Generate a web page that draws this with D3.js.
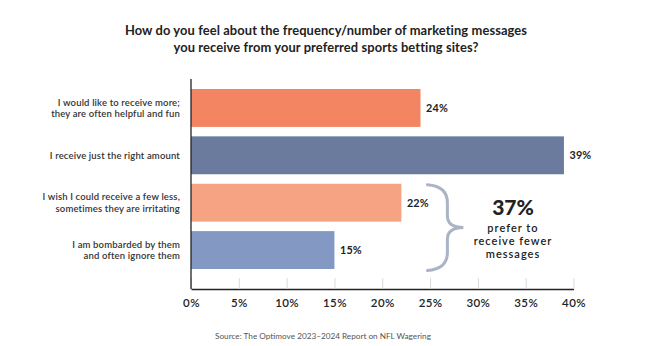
<!DOCTYPE html>
<html>
<head>
<meta charset="utf-8">
<script src="https://cdn.jsdelivr.net/npm/d3@7"></script>
<style>
  html, body { margin: 0; padding: 0; background: #fff; }
  svg { display: block; font-family: Lato, "Open Sans", sans-serif; }
</style>
</head>
<body>
<svg id="chart" width="649" height="346"></svg>
<script>
// Survey answers, in display order (top to bottom)
const categories = [
  ["I would like to receive more;", "they are often helpful and fun"],
  ["I receive just the right amount"],
  ["I wish I could receive a few less,", "sometimes they are irritating"],
  ["I am bombarded by them", "and often ignore them"]
];
const values = [24, 39, 22, 15];
const barColors = ["#f48563", "#6b7b9d", "#f6a383", "#8399c4"];
const tickValues = [0, 5, 10, 15, 20, 25, 30, 35, 40];
const titleLines = [
  "How do you feel about the frequency/number of marketing messages",
  "you receive from your preferred sports betting sites?"
];
const sourceText = "Source: The Optimove 2023\u20132024 Report on NFL Wagering";
// Answers grouped by the bracket callout ("fewer messages")
const fewerIdx = [2, 3];
const calloutLines = ["prefer to", "receive fewer", "messages"];

const svg = d3.select("#chart");
const ink = "#222";

const x = d3.scaleLinear().domain([0, 40]).range([191, 573.5]);
const y = d3.scaleBand().domain(d3.range(values.length))
  .range([89, 269]).paddingInner(0.2).paddingOuter(0);

const axisTop = 79, axisBottom = 289;

// Title
svg.append("text")
  .attr("x", 326).attr("y", 35)
  .attr("text-anchor", "middle")
  .attr("font-size", 12.9).attr("font-weight", 700).attr("fill", ink)
  .attr("letter-spacing", 0.1)
  .selectAll("tspan").data(titleLines).join("tspan")
  .attr("x", 326).attr("dy", (d, i) => i ? 16.5 : 0)
  .text(d => d);

// X axis with short light ticks pointing up
const xAxis = d3.axisBottom(x).tickValues(tickValues)
  .tickFormat(d => d + "%").tickSize(-11).tickPadding(10).tickSizeOuter(0);
const gx = svg.append("g").attr("transform", `translate(0,${axisBottom})`).call(xAxis);
gx.select(".domain").attr("stroke", ink).attr("stroke-width", 1.3);
gx.selectAll(".tick line").attr("stroke", "#d9d9d9").attr("stroke-width", 1);
gx.selectAll(".tick text").attr("font-size", 11.5).attr("font-weight", 600)
  .attr("fill", ink).attr("font-family", "Lato, sans-serif")
  .attr("letter-spacing", 0.4);

// Bars
svg.append("g").selectAll("rect").data(values).join("rect")
  .attr("x", x(0)).attr("y", (d, i) => y(i))
  .attr("width", d => x(d) - x(0)).attr("height", y.bandwidth())
  .attr("fill", (d, i) => barColors[i]);

// Vertical axis line
svg.append("line")
  .attr("x1", x(0)).attr("x2", x(0)).attr("y1", axisTop).attr("y2", axisBottom)
  .attr("stroke", ink).attr("stroke-width", 1.3);

// Category labels
const lab = svg.append("g").selectAll("text").data(categories).join("text")
  .attr("text-anchor", "end").attr("font-size", 9.5).attr("font-weight", 600)
  .attr("letter-spacing", 0.15).attr("fill", "#333");
lab.selectAll("tspan").data((d, i) => d.map((t, j) => ({ t, j, n: d.length, i })))
  .join("tspan")
  .attr("x", 180)
  .attr("y", d => y(d.i) + y.bandwidth() / 2 + 3.4 + (d.j - (d.n - 1) / 2) * 11.6)
  .text(d => d.t);

// Value labels
svg.append("g").selectAll("text").data(values).join("text")
  .attr("x", d => x(d) + 5.5)
  .attr("y", (d, i) => y(i) + y.bandwidth() / 2 + 4)
  .attr("font-size", 10.8).attr("font-weight", 700).attr("fill", ink)
  .attr("letter-spacing", 0.2)
  .text(d => d + "%");

// Bracket spanning the "fewer" answers
const yTop = y(fewerIdx[0]) + 1;
const yBot = y(fewerIdx[fewerIdx.length - 1]) + y.bandwidth() + 1.5;
const yMid = (yTop + yBot) / 2;
const bx0 = x(d3.max(fewerIdx, i => values[i])) + 26;
const bx1 = bx0 + 20, bx2 = bx0 + 36;
const p = d3.path();
p.moveTo(bx0, yTop);
p.bezierCurveTo(bx0 + 14, yTop + 1, bx1, yTop + 7, bx1, yTop + 18);
p.lineTo(bx1, yMid - 12);
p.bezierCurveTo(bx1, yMid - 4, bx1 + 5, yMid, bx2, yMid);
p.bezierCurveTo(bx1 + 5, yMid, bx1, yMid + 4, bx1, yMid + 12);
p.lineTo(bx1, yBot - 18);
p.bezierCurveTo(bx1, yBot - 7, bx0 + 14, yBot - 1, bx0, yBot);
svg.append("path").attr("d", p.toString())
  .attr("fill", "none").attr("stroke", "#aab4c6").attr("stroke-width", 3)
  .attr("stroke-linecap", "round");

// Callout
const share = d3.sum(fewerIdx, i => values[i]);
const cx = 513;
svg.append("text").attr("x", cx).attr("y", yMid - 13)
  .attr("text-anchor", "middle").attr("font-size", 21).attr("font-weight", 900)
  .attr("fill", ink).text(share + "%");
svg.append("text").attr("text-anchor", "middle")
  .attr("font-size", 11).attr("font-weight", 600).attr("fill", ink)
  .attr("letter-spacing", 1)
  .selectAll("tspan").data(calloutLines).join("tspan")
  .attr("x", cx).attr("y", (d, i) => yMid + 4 + i * 13.4)
  .text(d => d);

// Source
svg.append("text").attr("x", 323).attr("y", 339)
  .attr("text-anchor", "middle").attr("font-size", 8.2).attr("fill", "#555")
  .text(sourceText);
</script>
</body>
</html>
